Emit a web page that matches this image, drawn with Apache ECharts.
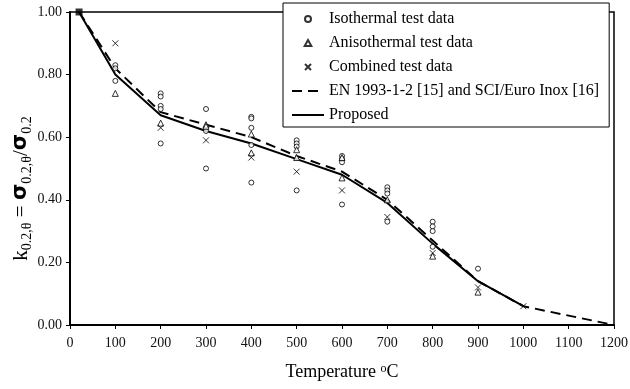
<!DOCTYPE html>
<html><head><meta charset="utf-8">
<script src="https://cdn.jsdelivr.net/npm/echarts@6/dist/echarts.min.js"></script>
<style>html,body{margin:0;padding:0;background:#fff}#c{width:630px;height:389px}</style>
</head><body><div id="c"></div>
<script>
const xTicks = [0,100,200,300,400,500,600,700,800,900,1000,1100,1200];
const yTicks = [0,0.2,0.4,0.6,0.8,1.0];
const isothermal = [[100,0.83],[100,0.82],[100,0.78],[200,0.74],[200,0.73],[200,0.70],[200,0.69],[200,0.58],[300,0.69],[300,0.62],[300,0.50],[400,0.665],[400,0.66],[400,0.63],[400,0.575],[400,0.455],[500,0.59],[500,0.58],[500,0.57],[500,0.43],[600,0.54],[600,0.53],[600,0.52],[600,0.385],[700,0.44],[700,0.43],[700,0.42],[700,0.33],[800,0.33],[800,0.315],[800,0.30],[800,0.25],[900,0.18]];
const anisothermal = [[100,0.74],[200,0.645],[300,0.64],[300,0.635],[400,0.61],[400,0.55],[500,0.56],[500,0.535],[600,0.535],[600,0.47],[700,0.40],[800,0.22],[900,0.105]];
const combined = [[100,0.90],[200,0.63],[300,0.59],[400,0.535],[500,0.49],[600,0.43],[700,0.345],[800,0.23],[900,0.12],[1000,0.06]];
const origin = [[20,1.0]];
const enCurve = [[20,1.0],[100,0.82],[200,0.68],[300,0.64],[400,0.60],[500,0.54],[600,0.49],[700,0.40],[800,0.27],[900,0.14],[1000,0.06],[1100,0.03],[1200,0.0]];
const proposed = [[20,1.0],[100,0.80],[200,0.67],[300,0.62],[400,0.58],[500,0.53],[600,0.48],[700,0.39],[800,0.26],[900,0.14],[1000,0.06]];
const names = ['Isothermal test data','Anisothermal test data','Combined test data','EN 1993-1-2 [15] and SCI/Euro Inox [16]','Proposed'];

const FONT = 'Liberation Serif';
const X_PATH = 'path://M0,0L10,10M10,0L0,10';
const TRI_PATH = 'path://M5,0L10,9L0,9Z';
const chart = echarts.init(document.getElementById('c'));
const hollow = {color:'#fff', borderColor:'#000', borderWidth:1};
const noDot = {color:'transparent', borderColor:'transparent', borderWidth:0};
chart.setOption({
  animation:false,
  textStyle:{fontFamily:FONT},
  grid:{left:70, right:16, top:12, bottom:64, show:true, borderColor:'#000', borderWidth:1.5,
        containLabel:false, outerBoundsMode:'none'},
  legend:{
    data:[
      {name:names[0], icon:'circle'},
      {name:names[1], icon:TRI_PATH},
      {name:names[2], icon:X_PATH},
      {name:names[3], itemStyle:noDot},
      {name:names[4], itemStyle:noDot}
    ],
    orient:'vertical', left:283, top:3,
    backgroundColor:'#fff', borderColor:'#000', borderWidth:1,
    padding:[8,10,4,8], itemGap:8, itemWidth:32, itemHeight:6,
    symbolKeepAspect:true,
    textStyle:{fontFamily:FONT, fontSize:16, lineHeight:16, color:'#000'},
    selectedMode:false
  },
  xAxis:{
    type:'value', min:0, max:1200, interval:100,
    name:'Temperature {sup|o}C', nameLocation:'middle', nameGap:38, nameMoveOverlap:false,
    nameTextStyle:{fontFamily:FONT, fontSize:18, color:'#000',
      rich:{sup:{fontFamily:FONT, fontSize:12, verticalAlign:'top', lineHeight:10, color:'#000'}}},
    axisLine:{lineStyle:{color:'#000', width:2}},
    axisTick:{inside:false, length:4, lineStyle:{color:'#000'}},
    axisLabel:{fontFamily:FONT, fontSize:14, color:'#111', margin:11,
      formatter:v=>xTicks.includes(v)?String(v):''},
    splitLine:{show:false}
  },
  yAxis:{
    type:'value', min:0, max:1, interval:0.2,
    name:'k{sub|0.2,θ} = {sig|σ}{sub|0.2,θ}/{sig|σ}{sub|0.2}',
    nameLocation:'middle', nameGap:36, nameRotate:90, nameMoveOverlap:false,
    nameTextStyle:{fontFamily:FONT, fontSize:21, color:'#000', lineHeight:26, padding:[0,40,0,0],
      rich:{sub:{fontFamily:FONT, fontSize:14, verticalAlign:'bottom', lineHeight:15, color:'#000'},
            sig:{fontFamily:'DejaVu Sans', fontSize:21, fontWeight:'bold', lineHeight:26, color:'#000'}}},
    axisLine:{lineStyle:{color:'#000', width:2}},
    axisTick:{inside:false, length:4, lineStyle:{color:'#000'}},
    axisLabel:{fontFamily:FONT, fontSize:14, color:'#111', margin:8,
      formatter:v=>{const t=yTicks.find(x=>Math.abs(x-v)<1e-9);return t===undefined?'':t.toFixed(2);}},
    splitLine:{show:false}
  },
  series:[
    {name:names[0], type:'scatter', data:isothermal, symbol:'circle', symbolSize:5, itemStyle:hollow, z:3},
    {name:names[1], type:'scatter', data:anisothermal, symbol:'triangle', symbolSize:6, itemStyle:hollow, z:3},
    {name:names[2], type:'scatter', data:combined, symbol:X_PATH, symbolSize:6, symbolKeepAspect:true,
      itemStyle:{color:'none', borderColor:'#000', borderWidth:1}, z:3},
    {name:names[3], type:'line', data:enCurve, symbol:'none', lineStyle:{color:'#000', width:2, type:[10,6]}, itemStyle:{color:'#000'}, z:2},
    {name:names[4], type:'line', data:proposed, symbol:'none', lineStyle:{color:'#000', width:2}, itemStyle:{color:'#000'}, z:2},
    {name:'origin', type:'scatter', data:origin, symbol:'rect', symbolSize:7, itemStyle:{color:'#000'}, z:4}
  ]
});
</script></body></html>
